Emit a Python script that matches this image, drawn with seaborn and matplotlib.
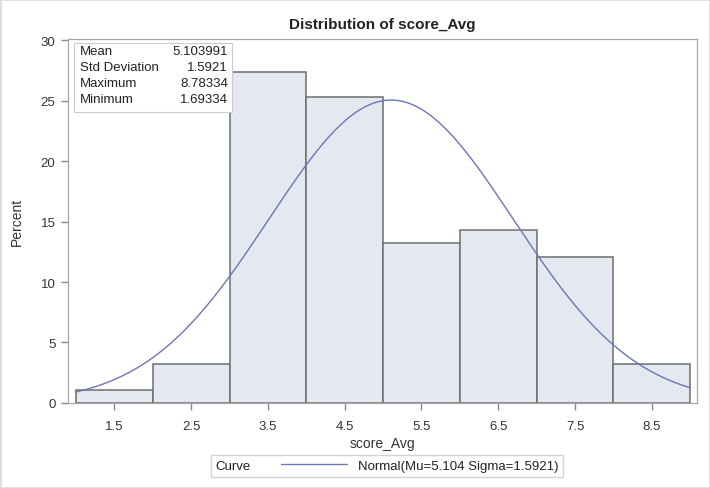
import numpy as np
import pandas as pd
import matplotlib
matplotlib.use("Agg")
import matplotlib.pyplot as plt
import seaborn as sns
from matplotlib.lines import Line2D
from matplotlib.offsetbox import HPacker

# bins of score_Avg and percent of observations in each
bin_edges = [1, 2, 3, 4, 5, 6, 7, 8, 9]
bin_mids = [1.5, 2.5, 3.5, 4.5, 5.5, 6.5, 7.5, 8.5]
percents = [1.1, 3.2, 27.4, 25.3, 13.2, 14.3, 12.1, 3.2]

stat_names = ["Mean", "Std Deviation", "Maximum", "Minimum"]
stat_values = ["5.103991", "1.5921", "8.78334", "1.69334"]

mu = 5.104
sigma = 1.5921

sns.set_style("ticks")
plt.rcParams["font.family"] = ["Liberation Sans", "DejaVu Sans"]

df = pd.DataFrame({"score_Avg": bin_mids, "pct": percents})

fig = plt.figure(figsize=(7.1, 4.89), dpi=100)
ax = fig.add_axes([0.0958, 0.174, 0.886, 0.744])

sns.histplot(data=df, x="score_Avg", weights="pct", bins=bin_edges,
             color="#e3e8f1", edgecolor="#6e6e6e", linewidth=1.1,
             alpha=1.0, ax=ax)

# fitted normal curve, scaled to percent per unit-width bin
xs = np.linspace(bin_edges[0], bin_edges[-1], 200)
ys = 100 * np.exp(-0.5 * ((xs - mu) / sigma) ** 2) / (sigma * np.sqrt(2 * np.pi))
sns.lineplot(x=xs, y=ys, color="#6b77b3", linewidth=1.0, ax=ax)

ax.set_xlim(0.896, 9.09)
ax.set_ylim(0, 30.1)
ax.set_xticks(bin_mids)
ax.set_xticklabels([str(v) for v in bin_mids])
ax.set_yticks([0, 5, 10, 15, 20, 25, 30])
ax.tick_params(axis="both", which="major", bottom=True, left=True,
               direction="out", length=5, width=1.0,
               color="#8a8a8a", labelsize=9.5, labelcolor="#333333", pad=4)
ax.tick_params(axis="x", pad=7)
for s in ax.spines.values():
    s.set_visible(True)
    s.set_color("#a8a8a8")
    s.set_linewidth(0.9)

ax.set_xlabel("score_Avg", fontsize=10, color="#333333", labelpad=3)
ax.set_ylabel("Percent", fontsize=10, color="#333333", labelpad=12)
ax.set_title("Distribution of score_Avg", fontsize=11, fontweight="bold",
             color="#222222", pad=8)

# statistics inset box
box = matplotlib.patches.Rectangle((0.009, 0.80), 0.252, 0.19, transform=ax.transAxes,
                                   facecolor="white", edgecolor="#cccccc",
                                   linewidth=0.8, zorder=5)
ax.add_patch(box)
for i, (n, v) in enumerate(zip(stat_names, stat_values)):
    y = 0.966 - i * 0.044
    ax.text(0.019, y, n, transform=ax.transAxes, fontsize=9.5, va="center",
            ha="left", color="#222222", zorder=6)
    ax.text(0.254, y, v, transform=ax.transAxes, fontsize=9.5, va="center",
            ha="right", color="#222222", zorder=6)

# legend below the plot
handle = Line2D([], [], color="#6b77b3", linewidth=1.0)
leg = fig.legend([handle], ["Normal(Mu=5.104 Sigma=1.5921)"],
                 title="Curve", loc="center", bbox_to_anchor=(0.545, 0.045),
                 frameon=True, fontsize=9.5, title_fontsize=9.5, handlelength=5,
                 borderpad=0.35, fancybox=False, edgecolor="#c8c8c8")
leg.get_title().set_color("#222222")
for t in leg.get_texts():
    t.set_color("#222222")

# put the title on the left of the entry
title_box = leg._legend_title_box
handle_box = leg._legend_handle_box
leg._legend_box._children = [HPacker(pad=0, sep=22, align="center",
                                     children=[title_box, handle_box])]

# thin outer border like the reference screenshot
fig.patches.append(matplotlib.patches.Rectangle((0, 0), 1, 1, transform=fig.transFigure,
                                                fill=False, edgecolor="#dddddd",
                                                linewidth=2))

fig.savefig("out.png", dpi=100)
